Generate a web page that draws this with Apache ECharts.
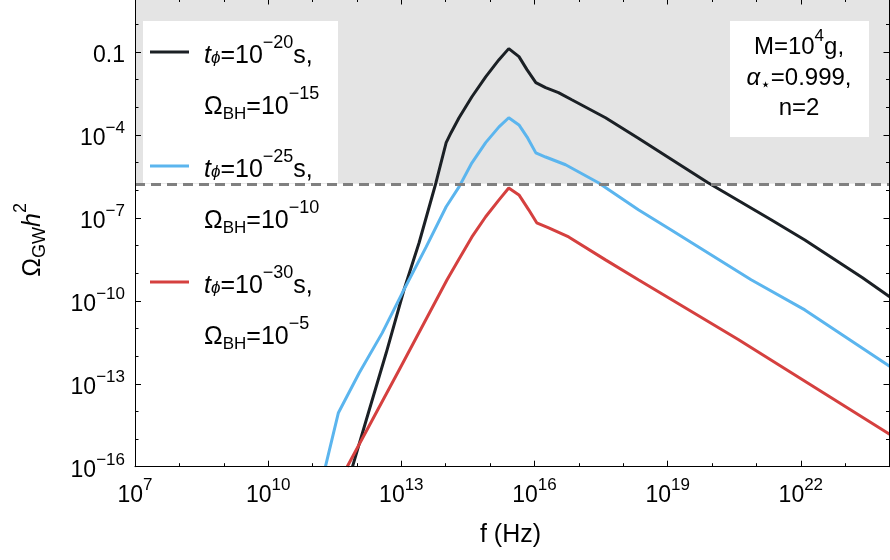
<!DOCTYPE html>
<html><head><meta charset="utf-8">
<script src="https://cdn.jsdelivr.net/npm/echarts@6/dist/echarts.min.js"></script>
<style>
html,body{margin:0;padding:0;background:#fff;overflow:hidden;width:890px;height:560px}
#wrap{position:relative;width:890px;height:560px;overflow:hidden}
#c{position:absolute;left:0;top:-31px;width:937px;height:591px}
</style>
</head><body><div id="wrap"><div id="c"></div></div>
<script>
// All values are log10 exponents: x = log10(f / Hz), y = log10(Omega_GW h^2)
const xTickExponents = [7, 10, 13, 16, 19, 22];
const yTickExponents = [-16, -13, -10, -7, -4, -1];

const blackLogF = [11.90,12.21,12.66,13.06,13.40,13.78,14.01,14.12,14.30,14.59,14.90,15.20,15.42,15.65,15.83,16.03,16.25,16.54,16.84,17.60,18.34,19.08,19.91,21.33,22.09,23.39,24.00];
const blackLogOmega = [-16.0,-14.31,-11.88,-9.60,-7.90,-5.73,-4.28,-3.92,-3.38,-2.62,-1.90,-1.28,-0.88,-1.17,-1.64,-2.11,-2.29,-2.47,-2.73,-3.38,-4.12,-4.88,-5.73,-7.07,-7.80,-9.17,-9.85];

const blueLogF = [11.29,11.58,12.05,12.57,13.02,13.56,14.01,14.30,14.59,14.90,15.20,15.42,15.65,15.83,16.03,16.25,16.70,17.44,18.34,19.08,20.88,22.09,24.00];
const blueLogOmega = [-16.0,-14.06,-12.61,-11.16,-9.72,-8.05,-6.60,-5.88,-5.01,-4.28,-3.71,-3.38,-3.64,-4.07,-4.65,-4.80,-5.08,-5.73,-6.71,-7.44,-9.24,-10.33,-12.37];

const redLogF = [11.78,12.95,14.03,14.30,14.59,14.90,15.20,15.42,15.65,15.87,16.05,16.32,16.77,17.60,18.34,20.59,24.00];
const redLogOmega = [-16.0,-12.50,-9.24,-8.49,-7.69,-6.96,-6.35,-5.92,-6.17,-6.71,-7.18,-7.36,-7.69,-8.52,-9.24,-11.40,-14.83];

const boundLogOmega = -5.77;   // dashed line, shaded above

const seriesColors = ['#1b2025', '#5bb5ee', '#d5403f'];
const legendTphi = ['−20', '−25', '−30'];
const legendOmegaBH = ['−15', '−10', '−5'];

const FONT = '"Liberation Sans", Arial, Helvetica, "DejaVu Sans", sans-serif';
const X_MIN = 7, X_MAX = 25, Y_MIN = -16, Y_MAX = 2;
const DY = 31; // chart canvas is shifted up by 31px (plot frame is cropped in the reference)

function zip(a, b) { return a.map((v, i) => [v, b[i]]); }
function expStr(n) { return (n < 0 ? '−' : '') + Math.abs(n); }
// rich-text token: all tokens share one line height and are shifted with padding
function tok(size, L, shift, italic) {
  const o = {fontSize: size, fontFamily: FONT, color: '#000', lineHeight: L, verticalAlign: 'middle'};
  if (italic) o.fontStyle = 'italic';
  if (shift < 0) o.padding = [0, 0, -2 * shift, 0];   // raise
  if (shift > 0) o.padding = [2 * shift, 0, 0, 0];    // lower
  return o;
}

const axRich = {
  b: {fontSize: 23, fontFamily: FONT, color: '#000', lineHeight: 37, verticalAlign: 'middle'},
  s: {fontSize: 17, fontFamily: FONT, color: '#000', lineHeight: 17, verticalAlign: 'top'}
};
const nmRich = {b: tok(25, 40, 0), it: tok(25, 40, 0, true), s: tok(18, 40, -12), sb: tok(18, 40, 7)};
const lgRich = {n: tok(25, 30, 0), it: tok(25, 30, 0, true), sup: tok(18, 30, -12.5), sub: tok(17, 30, 7.5), subit: tok(17, 30, 2, true)};
const anRich = {n: tok(24, 30, 0), it: tok(24, 30, 0, true), sup: tok(17, 30, -11), sub: tok(17, 30, 7)};

function baseAxis(min, max) {
  return {
    type: 'value', min: min, max: max, interval: 3, z: 6,
    splitLine: {show: false},
    axisLine: {show: true, onZero: false, lineStyle: {color: '#000', width: 1}},
    axisTick: {show: true, inside: true, length: 6, lineStyle: {color: '#000', width: 1}},
    minorTick: {show: true, splitNumber: 3, length: 3.5, lineStyle: {color: '#000', width: 1}},
    minorSplitLine: {show: false}
  };
}

const xMain = Object.assign(baseAxis(X_MIN, X_MAX), {
  position: 'bottom',
  name: 'f (Hz)', nameLocation: 'middle', nameGap: 56,
  nameTextStyle: {fontSize: 25, fontFamily: FONT, color: '#000', padding: [0, 48, 0, 0]},
  axisLabel: {
    margin: 10, color: '#000', rich: axRich,
    formatter: v => xTickExponents.includes(v) ? '{b|10}{s|' + expStr(v) + '}' : ''
  }
});
const xTop = Object.assign(baseAxis(X_MIN, X_MAX), {position: 'top', offset: -29.5, axisLabel: {show: false}});

const yMain = Object.assign(baseAxis(Y_MIN, Y_MAX), {
  position: 'left',
  name: '{b|Ω}{sb|GW}{it|h}{s|2}', nameLocation: 'middle', nameGap: 82, nameRotate: 90,
  nameTextStyle: {rich: nmRich, padding: [0, 44, 0, 0]},
  axisLabel: {
    margin: 10, color: '#000', rich: axRich, padding: [7, 0, 0, 0],
    formatter: v => !yTickExponents.includes(v) ? '' : (v === -1 ? '{b|0.1}' : '{b|10}{s|' + expStr(v) + '}')
  }
});
const yRight = Object.assign(baseAxis(Y_MIN, Y_MAX), {position: 'right', offset: -44.5, axisLabel: {show: false}});

const curves = [
  {x: blackLogF, y: blackLogOmega},
  {x: blueLogF, y: blueLogOmega},
  {x: redLogF, y: redLogOmega}
];

const series = [
  {
    type: 'line', data: [], z: 0, silent: true,
    markArea: {silent: true, itemStyle: {color: '#e4e4e4'},
      data: [[{xAxis: X_MIN, yAxis: boundLogOmega}, {xAxis: X_MAX, yAxis: Y_MAX}]]}
  }
].concat(curves.map((c, i) => ({
  type: 'line', name: 'curve' + i, data: zip(c.x, c.y), z: 3,
  showSymbol: false, symbol: 'none', clip: true,
  lineStyle: {color: seriesColors[i], width: 3}, itemStyle: {color: seriesColors[i]}
}))).concat([{
  type: 'line', data: [], z: 4, silent: true,
  markLine: {silent: true, symbol: 'none', label: {show: false},
    lineStyle: {type: [10, 6], color: '#808080', width: 3},
    data: [{yAxis: boundLogOmega}]}
}]);

const iconY = [52, 166, 282];
const rowY = [56, 170, 286];
const ROW2 = 51;
const graphics = [
  {type: 'rect', z: 2, shape: {x: 143, y: 21 + DY, width: 195, height: 162}, style: {fill: '#ffffff'}},
  {type: 'rect', z: 2, shape: {x: 730, y: 21 + DY, width: 139, height: 116}, style: {fill: '#ffffff'}}
];
rowY.forEach((y, i) => {
  graphics.push({type: 'line', z: 10, shape: {x1: 150, y1: iconY[i] + DY, x2: 189, y2: iconY[i] + DY},
    style: {stroke: seriesColors[i], lineWidth: 3}});
  graphics.push({type: 'text', z: 10, x: 204, y: y + DY, style: {
    text: '{it|t}{subit|ϕ}{n|=10}{sup|' + legendTphi[i] + '}{n|s,}',
    rich: lgRich, verticalAlign: 'middle', align: 'left'}});
  graphics.push({type: 'text', z: 10, x: 204, y: y + ROW2 + DY, style: {
    text: '{n|Ω}{sub|BH}{n|=10}{sup|' + legendOmegaBH[i] + '}',
    rich: lgRich, verticalAlign: 'middle', align: 'left'}});
});
const annLines = ['{n|M=10}{sup|4}{n|g,}', '{it|α}{sub|⋆}{n|=0.999,}', '{n|n=2}'];
const annY = [47, 78, 108];
annLines.forEach((t, i) => {
  graphics.push({type: 'text', z: 10, x: 799, y: annY[i] + DY, style: {
    text: t, rich: anRich, verticalAlign: 'middle', align: 'center'}});
});

const chart = echarts.init(document.getElementById('c'));
chart.setOption({
  animation: false,
  backgroundColor: '#ffffff',
  grid: {left: 135, right: 0, top: 0, bottom: 93.3, containLabel: false},
  xAxis: [xMain, xTop],
  yAxis: [yMain, yRight],
  series: series,
  graphic: graphics
});
</script></body></html>
